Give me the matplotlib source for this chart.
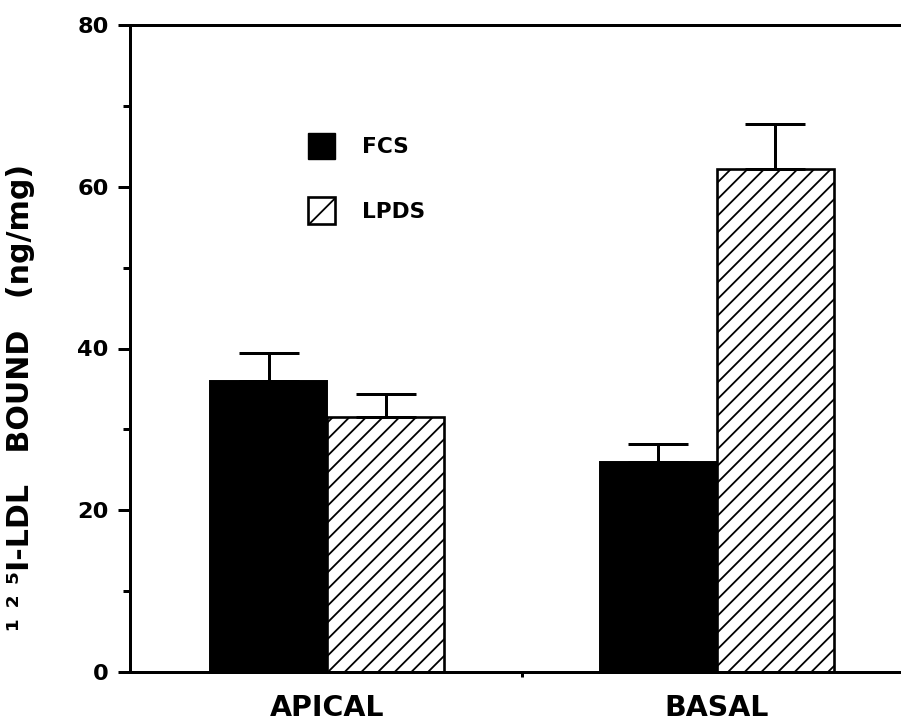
import numpy as np
import matplotlib
matplotlib.use("Agg")
import matplotlib.pyplot as plt
from matplotlib.patches import Patch

# LDL binding, apical vs basal surface, cells grown in FCS or LPDS
groups = ["APICAL", "BASAL"]
fcs_values = [36.0, 26.0]
fcs_err = [3.5, 2.2]
lpds_values = [31.5, 62.2]
lpds_err = [2.9, 5.5]

plt.rcParams['hatch.linewidth'] = 1.3
plt.rcParams['font.family'] = ['DejaVu Sans']

fig = plt.figure(figsize=(9.01, 7.26), dpi=100)
ax = fig.add_axes([130 / 901, 54 / 726, 770 / 901, 647 / 726])

x = np.arange(len(groups))
width = 0.30
lw = 2.16

ax.bar(x - width / 2, fcs_values, width, color='black', edgecolor='black', linewidth=1.4)
ax.bar(x + width / 2, lpds_values, width, color='white', edgecolor='black',
       linewidth=1.9, hatch='//')

# error bars go up only
ax.errorbar(x - width / 2, fcs_values, yerr=[np.zeros(len(fcs_err)), fcs_err],
            fmt='none', ecolor='black', elinewidth=lw, capsize=21.6, capthick=lw)
ax.errorbar(x + width / 2, lpds_values, yerr=[np.zeros(len(lpds_err)), lpds_err],
            fmt='none', ecolor='black', elinewidth=lw, capsize=21.6, capthick=lw)

ax.set_xlim(-0.506, 1.47)
ax.set_ylim(0, 80)

ax.set_yticks([0, 20, 40, 60, 80])
ax.set_yticks([10, 30, 50, 70], minor=True)
ax.tick_params(axis='y', which='major', length=8.4, width=lw, pad=7,
               labelsize=16.2)
ax.tick_params(axis='y', which='minor', length=4.8, width=lw)
for lab in ax.get_yticklabels():
    lab.set_fontweight('bold')

# one short tick between the groups, names under the groups
ax.set_xticks([0.5])
ax.set_xticklabels([""])
ax.set_xticks(x, minor=True)
ax.set_xticklabels(groups, minor=True, fontsize=20.5, fontweight='bold')
ax.tick_params(axis='x', which='major', length=3.6, width=lw)
ax.tick_params(axis='x', which='minor', length=0, pad=16)

for side in ['left', 'bottom', 'top']:
    ax.spines[side].set_linewidth(lw)
ax.spines['right'].set_visible(False)

ax.set_ylabel("¹ ² ⁵I-LDL   BOUND   (ng/mg)", fontsize=21.6, fontweight='bold')
ax.yaxis.set_label_coords(-0.123, 0.425)

handles = [Patch(facecolor='black', edgecolor='black', label='FCS'),
           Patch(facecolor='white', edgecolor='black', hatch='/', linewidth=1.9,
                 label='LPDS')]
leg = ax.legend(handles=handles, loc='upper left', bbox_to_anchor=(0.231, 0.833),
                frameon=False, borderpad=0, borderaxespad=0,
                handlelength=1.25, handleheight=1.5, handletextpad=1.25,
                labelspacing=1.75, prop={'size': 15.6, 'weight': 'bold'})

fig.savefig("out.png", dpi=100)
